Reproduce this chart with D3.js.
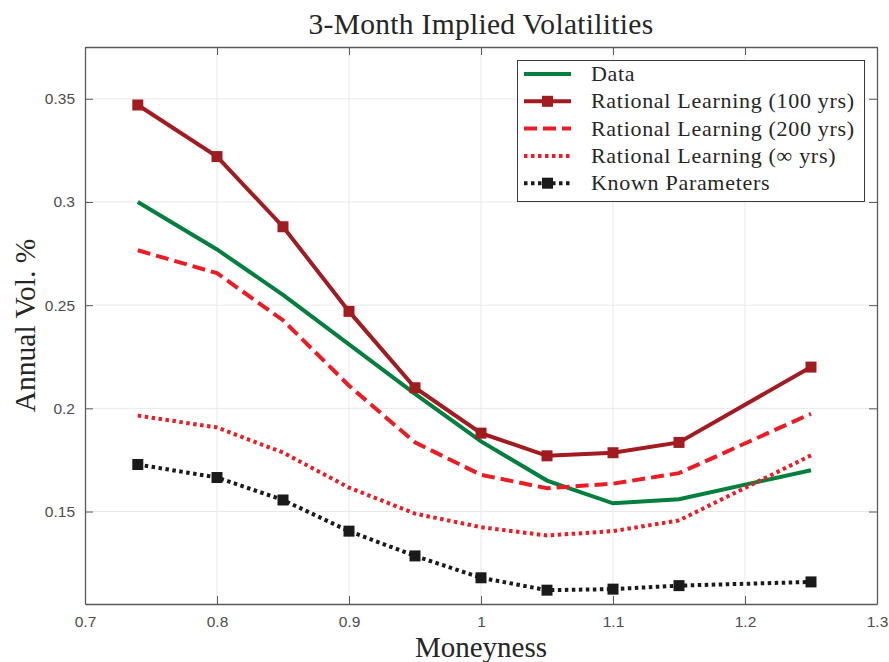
<!DOCTYPE html>
<html lang="en">
<head>
  <meta charset="UTF-8">
  <title>3-Month Implied Volatilities</title>
  <script src="https://cdnjs.cloudflare.com/ajax/libs/d3/7.8.5/d3.min.js"></script>
  <style>
    body { margin: 0; background: #fff; }
    .serif { font-family: "Liberation Serif", "DejaVu Serif", serif; fill: #262626; }
  </style>
</head>
<body>
<script>
  // moneyness grid
  const moneyness = [0.74, 0.8, 0.85, 0.9, 0.95, 1.0, 1.05, 1.1, 1.15, 1.25];

  const dataVol   = [0.300, 0.277, 0.255, 0.231, 0.207, 0.184, 0.165, 0.154, 0.156, 0.170];
  const rl100     = [0.347, 0.322, 0.288, 0.247, 0.210, 0.188, 0.177, 0.1785, 0.1835, 0.220];
  const rl200     = [0.2766, 0.2655, 0.2427, 0.211, 0.1835, 0.1678, 0.1613, 0.1635, 0.1686, 0.1974];
  const rlInf     = [0.1965, 0.1907, 0.1786, 0.1616, 0.149, 0.1424, 0.1384, 0.1405, 0.1457, 0.1772];
  const known     = [0.1728, 0.1665, 0.1556, 0.1405, 0.1285, 0.1179, 0.1119, 0.1124, 0.1141, 0.1159];

  const xTicks = [0.7, 0.8, 0.9, 1.0, 1.1, 1.2, 1.3];
  const yTicks = [0.15, 0.2, 0.25, 0.3, 0.35];

  const series = [
    {name: "Data", values: dataVol, color: "#007f3d", dash: null, marker: false},
    {name: "Rational Learning (100 yrs)", values: rl100, color: "#a11b21", dash: null, marker: true},
    {name: "Rational Learning (200 yrs)", values: rl200, color: "#ed1c24", dash: "13,6", marker: false},
    {name: "Rational Learning (\u221e yrs)", values: rlInf, color: "#ed1c24", dash: "3.5,3.5", marker: false},
    {name: "Known Parameters", values: known, color: "#1a1a1a", dash: "3.5,3.5", marker: true}
  ];

  const w = 889, h = 662;
  const m = {left: 85, top: 47, right: 877, bottom: 604};

  const x = d3.scaleLinear().domain([0.7, 1.3]).range([m.left, m.right]);
  const y = d3.scaleLinear().domain([0.1052, 0.3751]).range([m.bottom, m.top]);

  const svg = d3.select("body").append("svg")
    .attr("width", w).attr("height", h);

  // grid
  svg.append("g").selectAll("line").data(xTicks.slice(1, -1)).enter().append("line")
    .attr("x1", d => x(d)).attr("x2", d => x(d))
    .attr("y1", m.top).attr("y2", m.bottom)
    .attr("stroke", "#e8e8e8").attr("stroke-width", 1);
  svg.append("g").selectAll("line").data(yTicks).enter().append("line")
    .attr("x1", m.left).attr("x2", m.right)
    .attr("y1", d => y(d)).attr("y2", d => y(d))
    .attr("stroke", "#e8e8e8").attr("stroke-width", 1);

  // axes, ticks pointing inward
  const fmt = d => String(+d.toFixed(2));
  svg.append("g").attr("transform", `translate(0,${m.bottom})`)
    .call(d3.axisBottom(x).tickValues(xTicks).tickFormat(fmt).tickSizeInner(-8).tickSizeOuter(0).tickPadding(12));
  svg.append("g").attr("transform", `translate(0,${m.top})`)
    .call(d3.axisTop(x).tickValues(xTicks).tickFormat("").tickSizeInner(-8).tickSizeOuter(0));
  svg.append("g").attr("transform", `translate(${m.left},0)`)
    .call(d3.axisLeft(y).tickValues(yTicks).tickFormat(fmt).tickSizeInner(-8).tickSizeOuter(0).tickPadding(10));
  svg.append("g").attr("transform", `translate(${m.right},0)`)
    .call(d3.axisRight(y).tickValues(yTicks).tickFormat("").tickSizeInner(-8).tickSizeOuter(0));
  svg.selectAll(".domain").attr("stroke", "#5a5a5a").attr("stroke-width", 1.3);
  svg.selectAll(".tick line").attr("stroke", "#5a5a5a");
  svg.selectAll(".tick text")
    .attr("font-family", "Liberation Sans, Arial, sans-serif")
    .attr("font-size", 15.5)
    .attr("fill", "#4d4d4d");

  // lines
  const line = d3.line().x(d => x(d[0])).y(d => y(d[1]));
  series.forEach(s => {
    const pts = moneyness.map((mv, i) => [mv, s.values[i]]);
    svg.append("path").datum(pts)
      .attr("d", line)
      .attr("fill", "none")
      .attr("stroke", s.color)
      .attr("stroke-width", 4)
      .attr("stroke-dasharray", s.dash);
    if (s.marker) {
      svg.append("g").selectAll("rect").data(pts).enter().append("rect")
        .attr("x", d => x(d[0]) - 5.5).attr("y", d => y(d[1]) - 5.5)
        .attr("width", 11).attr("height", 11)
        .attr("fill", s.color);
    }
  });

  // legend
  const lg = svg.append("g");
  lg.append("rect").attr("x", 517.5).attr("y", 60.5).attr("width", 347).attr("height", 141)
    .attr("fill", "#fff").attr("stroke", "#3a3a3a").attr("stroke-width", 1);
  series.forEach((s, i) => {
    const yy = 74 + i * 27.3;
    lg.append("line").attr("x1", 524).attr("x2", 571).attr("y1", yy).attr("y2", yy)
      .attr("stroke", s.color).attr("stroke-width", 4).attr("stroke-dasharray", s.dash);
    if (s.marker) {
      lg.append("rect").attr("x", 542).attr("y", yy - 5.5).attr("width", 11).attr("height", 11)
        .attr("fill", s.color);
    }
    lg.append("text").attr("class", "serif").attr("x", 591).attr("y", yy + 7)
      .attr("font-size", 22).attr("letter-spacing", 0.7).text(s.name);
  });

  // titles
  svg.append("text").attr("class", "serif").attr("x", 481).attr("y", 34)
    .attr("text-anchor", "middle").attr("font-size", 29.5).attr("letter-spacing", 0.3)
    .text("3-Month Implied Volatilities");
  svg.append("text").attr("class", "serif").attr("x", 481).attr("y", 657)
    .attr("text-anchor", "middle").attr("font-size", 29).attr("fill", "#333").text("Moneyness");
  svg.append("text").attr("class", "serif")
    .attr("transform", `translate(35,${(m.top + m.bottom) / 2}) rotate(-90)`)
    .attr("text-anchor", "middle").attr("font-size", 29.5).attr("fill", "#333").text("Annual Vol. %");
</script>
</body>
</html>
